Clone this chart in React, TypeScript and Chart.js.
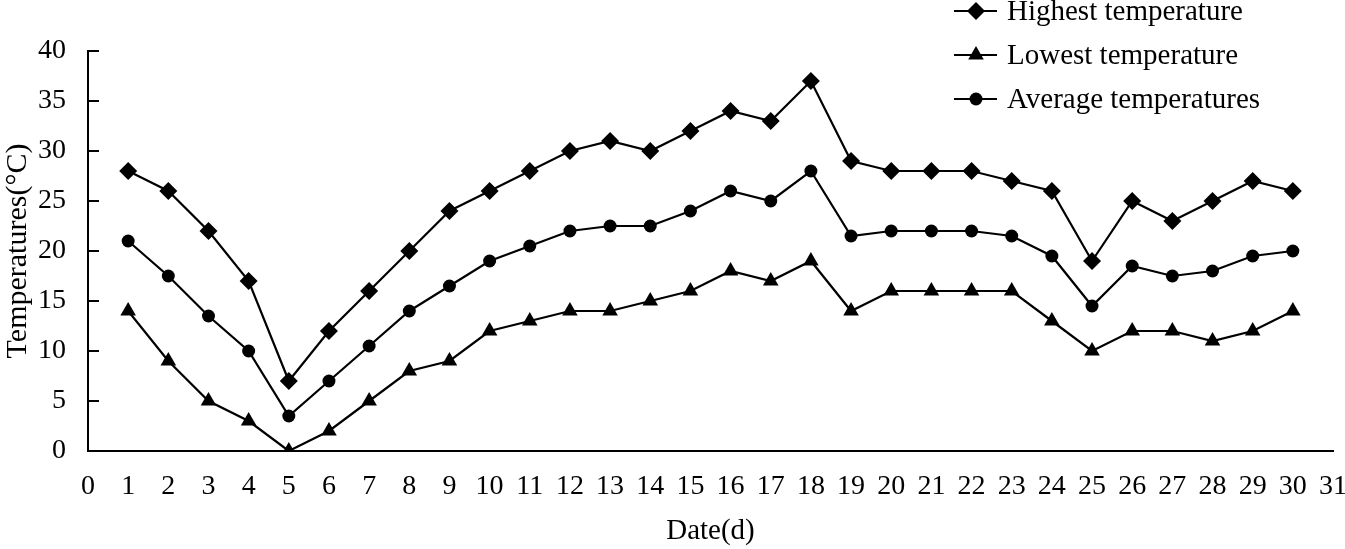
import React, { useEffect, useRef } from "react";
import { Chart, registerables } from "chart.js";
import { drawPoint } from "chart.js/helpers";

Chart.register(...registerables);

const days = [1, 2, 3, 4, 5, 6, 7, 8, 9, 10, 11, 12, 13, 14, 15, 16, 17, 18, 19, 20, 21, 22, 23, 24, 25, 26, 27, 28, 29, 30];
const highest = [28, 26, 22, 17, 7, 12, 16, 20, 24, 26, 28, 30, 31, 30, 32, 34, 33, 37, 29, 28, 28, 28, 27, 26, 19, 25, 23, 25, 27, 26];
const lowest = [14, 9, 5, 3, 0, 2, 5, 8, 9, 12, 13, 14, 14, 15, 16, 18, 17, 19, 14, 16, 16, 16, 16, 13, 10, 12, 12, 11, 12, 14];
const average = [21, 17.5, 13.5, 10, 3.5, 7, 10.5, 14, 16.5, 19, 20.5, 22, 22.5, 22.5, 24, 26, 25, 28, 21.5, 22, 22, 22, 21.5, 19.5, 14.5, 18.5, 17.5, 18, 19.5, 20];
const seriesNames = ["Highest temperature", "Lowest temperature", "Average temperatures"];
const xTitle = "Date(d)";
const yTitle = "Temperatures(\u00B0C)";

const FONT = "'Liberation Serif', 'Times New Roman', serif";

const toPoints = (vals: number[]) => days.map((d, i) => ({ x: d, y: vals[i] }));

const customPlugin = {
  id: "customDecor",
  afterDraw(chart: any) {
    const ctx = chart.ctx;
    const yScale = chart.scales.y;
    const area = chart.chartArea;
    ctx.save();
    // inward y ticks
    ctx.strokeStyle = "#000";
    ctx.lineWidth = 2;
    yScale.ticks.forEach((t: any) => {
      const py = Math.round(yScale.getPixelForValue(t.value));
      if (t.value === 0) return;
      ctx.beginPath();
      ctx.moveTo(area.left, py);
      ctx.lineTo(area.left + 11, py);
      ctx.stroke();
    });
    // legend
    const rows = [11, 55, 99];
    chart.data.datasets.forEach((ds: any, i: number) => {
      const y = rows[i];
      ctx.strokeStyle = "#000";
      ctx.lineWidth = 2.2;
      ctx.beginPath();
      ctx.moveTo(954, y);
      ctx.lineTo(997, y);
      ctx.stroke();
      ctx.fillStyle = "#000";
      drawPoint(ctx, { pointStyle: ds.pointStyle, radius: ds.pointRadius, rotation: 0, borderWidth: 0 }, 976, y);
      ctx.fillStyle = "#000";
      ctx.font = `29px ${FONT}`;
      ctx.textBaseline = "middle";
      ctx.textAlign = "left";
      ctx.fillText(ds.label, 1007, y + 1);
    });
    ctx.restore();
  },
};

export default function App() {
  const ref = useRef<HTMLCanvasElement>(null);
  useEffect(() => {
    document.body.style.margin = "0";
    const common = {
      borderColor: "#000",
      backgroundColor: "#000",
      pointBackgroundColor: "#000",
      pointBorderColor: "#000",
      pointBorderWidth: 0,
      borderWidth: 2.2,
      tension: 0,
      fill: false,
    };
    const chart = new Chart(ref.current!, {
      type: "line",
      data: {
        datasets: [
          { ...common, label: seriesNames[0], data: toPoints(highest), pointStyle: "rectRot", pointRadius: 9 },
          { ...common, label: seriesNames[1], data: toPoints(lowest), pointStyle: "triangle", pointRadius: 9 },
          { ...common, label: seriesNames[2], data: toPoints(average), pointStyle: "circle", pointRadius: 6.5 },
        ],
      } as any,
      options: {
        responsive: false,
        animation: false,
        layout: { padding: { top: 51, right: 12, left: 0, bottom: 0 } },
        plugins: { legend: { display: false }, tooltip: { enabled: false } },
        scales: {
          x: {
            type: "linear",
            min: 0,
            max: 31,
            ticks: { stepSize: 1, color: "#000", font: { family: FONT, size: 28 }, padding: 19, maxRotation: 0, autoSkip: false },
            grid: { display: true, drawOnChartArea: false, drawTicks: false },
            border: { display: true, color: "#000", width: 2 },
            title: { display: true, text: xTitle, color: "#000", font: { family: FONT, size: 29 }, padding: { top: 0, bottom: 0 } },
            afterFit: (s: any) => {
              s.height = 98;
              s.paddingLeft = 0;
              s.paddingRight = 0;
            },
          },
          y: {
            min: 0,
            max: 40,
            ticks: { stepSize: 5, color: "#000", font: { family: FONT, size: 28 }, padding: 22 },
            grid: { display: true, drawOnChartArea: false, drawTicks: false },
            border: { display: true, color: "#000", width: 2 },
            title: { display: true, text: yTitle, color: "#000", font: { family: FONT, size: 30 }, padding: { top: 0, bottom: 0 } },
            afterFit: (s: any) => {
              s.width = 88;
              s.paddingTop = 0;
              s.paddingBottom = 0;
            },
          },
        } as any,
      },
      plugins: [customPlugin],
    });
    return () => chart.destroy();
  }, []);
  return (
    <div style={{ position: "absolute", left: 0, top: 0, width: 1345, height: 549, background: "#fff" }}>
      <canvas ref={ref} width={1345} height={549} style={{ display: "block" }} />
    </div>
  );
}
